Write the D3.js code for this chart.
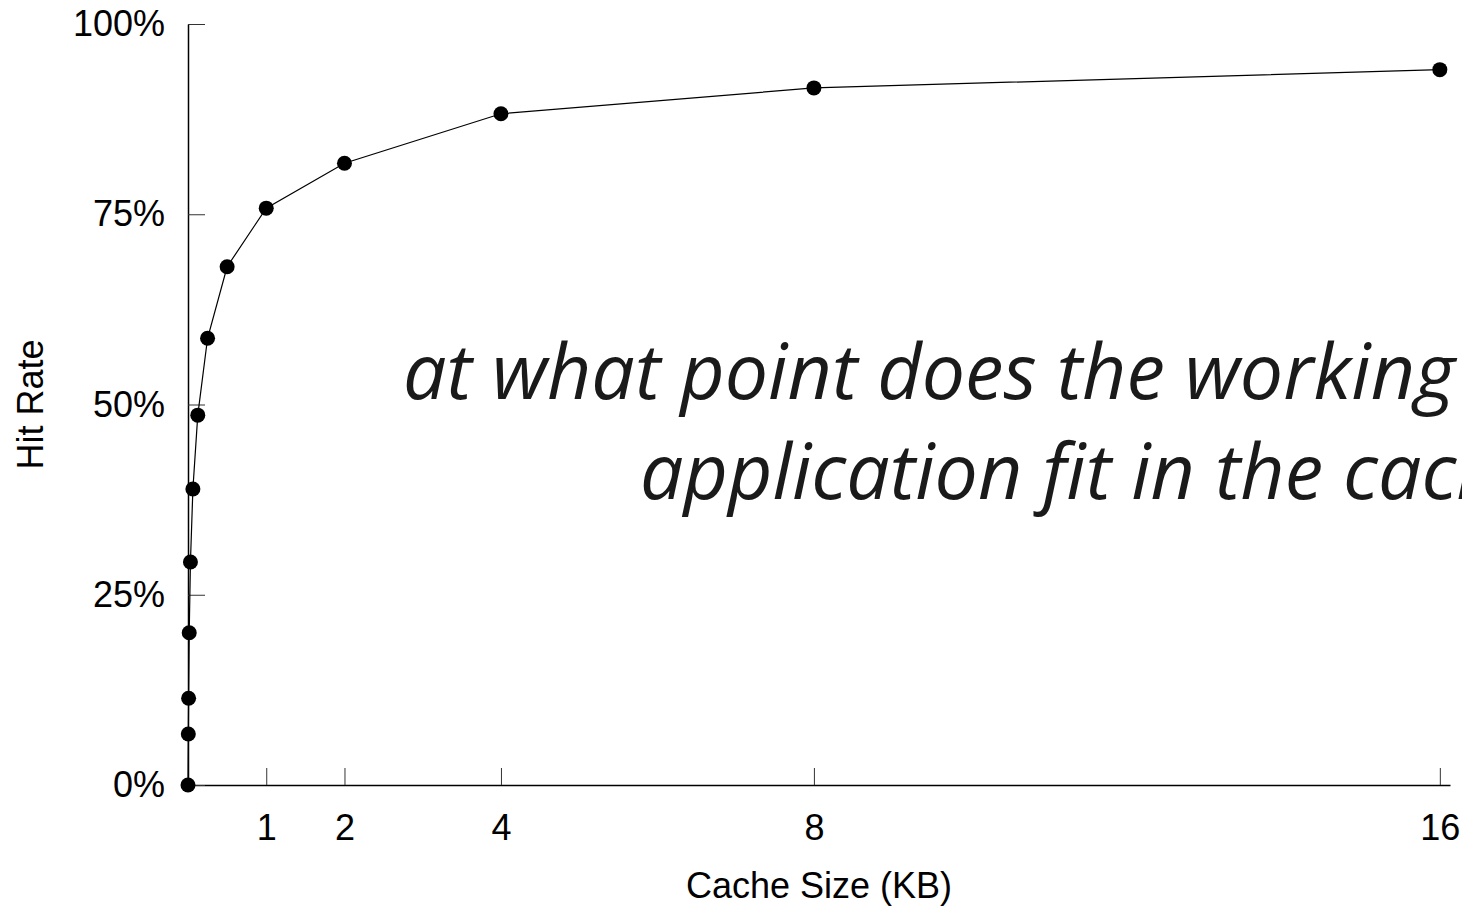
<!DOCTYPE html>
<html>
<head>
<meta charset="utf-8">
<script src="https://cdn.jsdelivr.net/npm/d3@7"></script>
<style>
  body { margin: 0; background: #fff; }
  svg { display: block; }
</style>
</head>
<body>
<div id="chart"></div>
<script>
// cache size in KB vs hit rate (%)
const cacheSizes = [0, 1/256, 1/128, 1/64, 1/32, 1/16, 1/8, 1/4, 1/2, 1, 2, 4, 8, 16];
const hitRates = [0, 6.7, 11.4, 20.0, 29.3, 38.9, 48.6, 58.7, 68.1, 75.8, 81.7, 88.2, 91.6, 94.0];
const xTicks = [1, 2, 4, 8, 16];
const yTicks = [0, 25, 50, 75, 100];
const noteLines = ["at what point does the working set of the", "application fit in the cache?"];

const width = 1462, height = 908;
const margin = {top: 24, right: 12, bottom: 123, left: 188};

const svg = d3.select("#chart")
    .append("svg")
    .attr("width", width)
    .attr("height", height);

const x = d3.scaleLinear()
    .domain([0, 16.13])
    .range([margin.left, width - margin.right]);

const y = d3.scaleLinear()
    .domain([0, 100])
    .range([height - margin.bottom, margin.top]);

const data = cacheSizes.map((c, i) => ({size: c, rate: hitRates[i]}));

const labelFont = "'Liberation Sans', Arial, Helvetica, sans-serif";

// axes, ticks pointing into the plot
const xAxis = svg.append("g")
    .attr("transform", `translate(0, ${y(0)})`)
    .call(d3.axisBottom(x).tickValues(xTicks).tickSizeInner(-17).tickSizeOuter(0).tickPadding(29));
const yAxis = svg.append("g")
    .attr("transform", `translate(${x(0)}, 0)`)
    .call(d3.axisLeft(y).tickValues(yTicks).tickFormat(d => d + "%").tickSizeInner(-17).tickSizeOuter(0).tickPadding(23));

[xAxis, yAxis].forEach(g => {
    g.select(".domain").attr("stroke", "#000").attr("stroke-width", 1.5);
    g.selectAll(".tick line").attr("stroke", "#333").attr("stroke-width", 1);
    g.selectAll(".tick text")
        .attr("fill", "#000")
        .style("font-family", labelFont)
        .style("font-size", "36px");
});

svg.append("text")
    .attr("x", (x.range()[0] + x.range()[1]) / 2)
    .attr("y", 898)
    .attr("text-anchor", "middle")
    .style("font-family", labelFont)
    .style("font-size", "36px")
    .text("Cache Size (KB)");

svg.append("text")
    .attr("transform", `translate(43, ${(y(0) + y(100)) / 2}) rotate(-90)`)
    .attr("text-anchor", "middle")
    .style("font-family", labelFont)
    .style("font-size", "36px")
    .text("Hit Rate");

const line = d3.line()
    .x(d => x(d.size))
    .y(d => y(d.rate));

svg.append("path")
    .datum(data)
    .attr("fill", "none")
    .attr("stroke", "#000")
    .attr("stroke-width", 1.2)
    .attr("d", line);

svg.selectAll(".dot")
    .data(data)
    .enter()
    .append("circle")
    .attr("class", "dot")
    .attr("cx", d => x(d.size))
    .attr("cy", d => y(d.rate))
    .attr("r", 7.5)
    .attr("fill", "#000");

// the question overlaid on the chart
const note = svg.append("g")
    .style("font-family", "'Open Sans', sans-serif")
    .style("font-style", "italic")
    .style("font-weight", 400)
    .style("font-size", "77px")
    .attr("fill", "#1a1a1a");
note.append("text").attr("x", 403).attr("y", 399).text(noteLines[0]);
note.append("text").attr("x", 640).attr("y", 499).text(noteLines[1]);
</script>
</body>
</html>
